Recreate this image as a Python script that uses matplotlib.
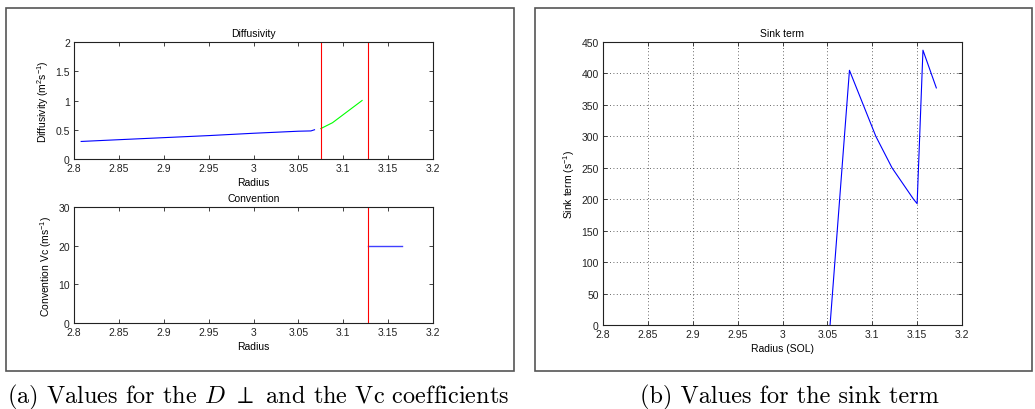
import matplotlib
matplotlib.use("Agg")
import matplotlib.pyplot as plt
from matplotlib.patches import Rectangle

# ---- data ----
diff_core_r = [2.808, 2.85, 2.9, 2.95, 3.0, 3.05, 3.064, 3.068]
diff_core_d = [0.30, 0.33, 0.365, 0.40, 0.44, 0.475, 0.48, 0.50]
diff_sol_r = [3.075, 3.088, 3.121]
diff_sol_d = [0.52, 0.62, 1.00]
sep_lines_top = [3.075, 3.128]
sep_lines_bot = [3.128]
vc_r = [3.128, 3.165]
vc_v = [20, 20]
sink_r = [3.053, 3.0746, 3.090, 3.104, 3.122, 3.146, 3.150, 3.1565, 3.1714]
sink_s = [0, 405, 350, 300, 250, 200, 193, 437, 377]

xticks = [2.8, 2.85, 2.9, 2.95, 3.0, 3.05, 3.1, 3.15, 3.2]
xticklabels = ["2.8", "2.85", "2.9", "2.95", "3", "3.05", "3.1", "3.15", "3.2"]

plt.rcParams['font.family'] = ['Liberation Sans', 'DejaVu Sans']
plt.rcParams['mathtext.fontset'] = 'custom'
plt.rcParams['mathtext.rm'] = 'Liberation Sans'
plt.rcParams['mathtext.it'] = 'Liberation Sans:italic'

W, H = 1035, 410
fig = plt.figure(figsize=(W / 100, H / 100), dpi=100)

def fx(px):
    return px / W

def fy(py):
    return 1 - py / H

def style(ax):
    ax.tick_params(direction='in', top=True, right=True, labelsize=7.5,
                   length=3, width=0.6, colors='#222222')
    ax.tick_params(axis='x', pad=3)
    ax.tick_params(axis='y', pad=3)
    for s in ax.spines.values():
        s.set_linewidth(0.8)
        s.set_color('#222222')

# frames
fig.patches.append(Rectangle((fx(6), fy(372)), fx(514 - 6), (372 - 9) / H,
                             transform=fig.transFigure, fill=False,
                             edgecolor='#555555', linewidth=1.2))
fig.patches.append(Rectangle((fx(535), fy(372)), fx(1032 - 535), (372 - 9) / H,
                             transform=fig.transFigure, fill=False,
                             edgecolor='#555555', linewidth=1.2))

# top-left: diffusivity
ax1 = fig.add_axes([fx(74), fy(160), fx(433 - 74), (160 - 43) / H])
ax1.plot(diff_core_r, diff_core_d, color='#0000ff', lw=0.8)
ax1.plot(diff_sol_r, diff_sol_d, color='#00ff00', lw=0.8)
for r in sep_lines_top:
    ax1.axvline(r, color='#ff0000', lw=0.8)
ax1.set_xlim(2.8, 3.2)
ax1.set_ylim(0, 2)
ax1.set_xticks(xticks)
ax1.set_xticklabels(xticklabels)
ax1.set_yticks([0, 0.5, 1, 1.5, 2])
ax1.set_yticklabels(["0", "0.5", "1", "1.5", "2"])
ax1.set_title("Diffusivity", fontsize=7.5, pad=4)
ax1.set_xlabel("Radius", fontsize=7.5, labelpad=3)
ax1.set_ylabel(r"Diffusivity (m$^2$s$^{-1}$)", fontsize=7.5, labelpad=3)
style(ax1)

# bottom-left: convention
ax2 = fig.add_axes([fx(74), fy(324), fx(433 - 74), (324 - 208) / H])
ax2.plot(vc_r, vc_v, color='#4040ff', lw=1.0)
for r in sep_lines_bot:
    ax2.axvline(r, color='#ff0000', lw=0.8)
ax2.set_xlim(2.8, 3.2)
ax2.set_ylim(0, 30)
ax2.set_xticks(xticks)
ax2.set_xticklabels(xticklabels)
ax2.set_yticks([0, 10, 20, 30])
ax2.set_title("Convention", fontsize=7.5, pad=4)
ax2.set_xlabel("Radius", fontsize=7.5, labelpad=3)
ax2.set_ylabel(r"Convention Vc (ms$^{-1}$)", fontsize=7.5, labelpad=3)
style(ax2)

# right: sink term
ax3 = fig.add_axes([fx(603), fy(326), fx(962 - 603), (326 - 43) / H])
ax3.plot(sink_r, sink_s, color='#0000ff', lw=0.8)
ax3.set_xlim(2.8, 3.2)
ax3.set_ylim(0, 450)
ax3.set_xticks(xticks)
ax3.set_xticklabels(xticklabels)
ax3.set_yticks(range(0, 451, 50))
ax3.grid(True, linestyle=(0, (1, 3)), color='#333333', linewidth=0.6)
ax3.set_title("Sink term", fontsize=7.5, pad=4)
ax3.set_xlabel("Radius (SOL)", fontsize=7.5, labelpad=3)
ax3.set_ylabel(r"Sink term (s$^{-1}$)", fontsize=7.5, labelpad=3)
style(ax3)

# captions
cap_kw = dict(fontsize=17.5, family=['cmr10', 'DejaVu Serif'], ha='center', va='center')
fig.text(fx(258), fy(397), r"(a) Values for the $D$ $\perp$ and the Vc coefficients",
         math_fontfamily='cm', **cap_kw)
fig.text(fx(789), fy(397), "(b) Values for the sink term", **cap_kw)

fig.savefig("out.png", dpi=100)
